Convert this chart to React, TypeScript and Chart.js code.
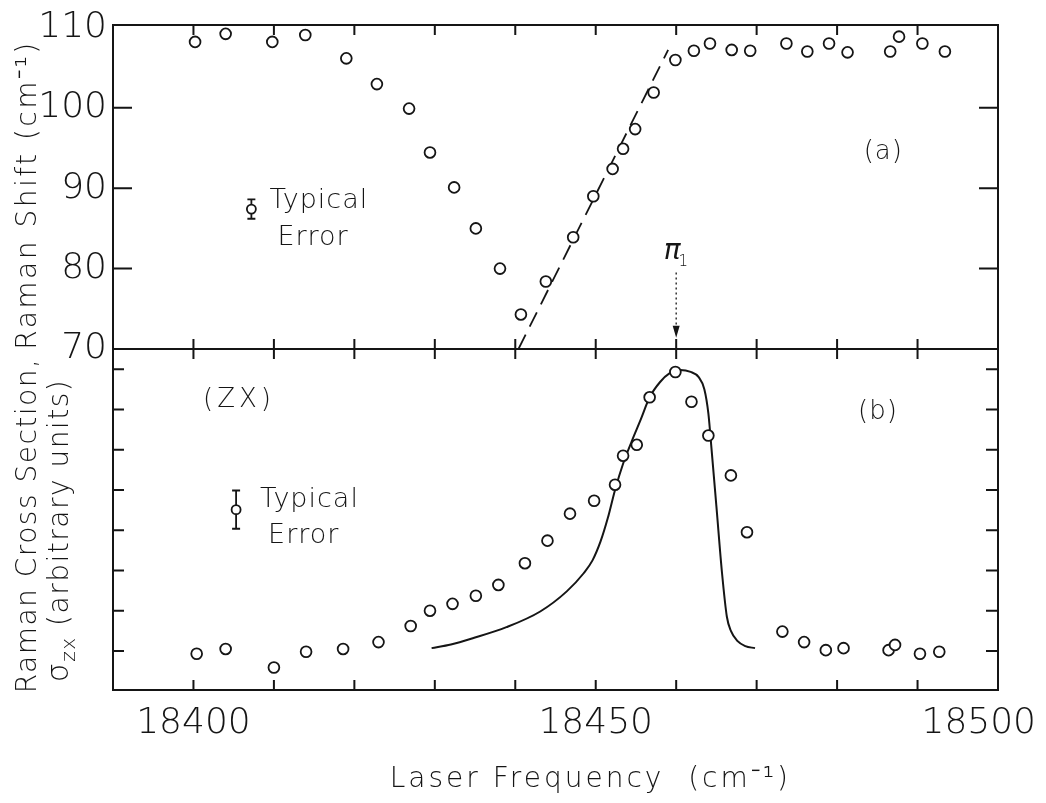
import React, { useEffect, useRef } from "react";
import { Chart, registerables } from "chart.js";

Chart.register(...registerables);

// ---------- axes ----------
const X_MIN = 18390;
const X_MAX = 18500;
const X_TICKS = [18400, 18410, 18420, 18430, 18440, 18450, 18460, 18470, 18480, 18490];
const X_LABELS = [18400, 18450, 18500];

const TOP_Y_MIN = 70;
const TOP_Y_MAX = 110.3;
const TOP_Y_LABELS = [70, 80, 90, 100, 110];
const TOP_Y_TICKS = [80, 90, 100];

const BOT_Y_MIN = -0.97;
const BOT_Y_MAX = 7.5;
const BOT_Y_TICKS = [0, 1, 2, 3, 4, 5, 6, 7];

// ---------- (a) Raman shift ----------
const shiftFreq = [
  18400.2, 18404.0, 18409.8, 18413.9, 18419.0, 18422.8, 18426.8, 18429.4,
  18432.4, 18435.1, 18438.1, 18440.7, 18443.8, 18447.2, 18449.7, 18452.1,
  18453.4, 18454.9, 18457.2, 18459.9, 18462.2, 18464.2, 18466.9, 18469.2,
  18473.7, 18476.3, 18479.0, 18481.3, 18486.6, 18487.7, 18490.6, 18493.4,
];
const shiftVal = [
  108.2, 109.2, 108.2, 109.05, 106.15, 102.95, 99.9, 94.45,
  90.1, 85.0, 80.0, 74.3, 78.4, 83.9, 89.0, 92.4,
  94.9, 97.35, 101.9, 105.95, 107.1, 108.0, 107.2, 107.1,
  108.0, 107.0, 108.0, 106.9, 107.0, 108.85, 108.0, 107.0,
];
const fitFreq = [18440.4, 18459.0];
const fitVal = [70, 107.2];
const topError = [18407.2, 87.4, 1.2]; // freq, value, half-width
const PI1_FREQ = 18460;
const PI1_FROM = 79.5;
const PI1_TO = 71.4;

// ---------- (b) Raman cross section ----------
const crossFreq = [
  18400.4, 18404.0, 18410.0, 18414.0, 18418.6, 18423.0, 18427.0, 18429.4,
  18432.2, 18435.1, 18437.9, 18441.2, 18444.0, 18446.8, 18449.8, 18452.4,
  18453.4, 18455.1, 18456.7, 18459.9, 18461.9, 18464.0, 18466.8, 18468.8,
  18473.2, 18475.9, 18478.6, 18480.8, 18486.4, 18487.2, 18490.3, 18492.7,
];
const crossVal = [
  -0.07, 0.05, -0.41, -0.02, 0.05, 0.22, 0.62, 1.0,
  1.17, 1.37, 1.64, 2.18, 2.74, 3.41, 3.73, 4.13,
  4.85, 5.12, 6.3, 6.93, 6.19, 5.35, 4.36, 2.95,
  0.48, 0.22, 0.02, 0.07, 0.02, 0.15, -0.07, -0.02,
];
const theoryFreq = [
  18429.6, 18432.0, 18434.8, 18438.9, 18443.1, 18446.4, 18448.5, 18449.6,
  18450.6, 18451.5, 18452.4, 18453.4, 18454.5, 18455.6, 18456.7, 18458.0,
  18459.2, 18460.5, 18461.8, 18462.8, 18463.5, 18464.0, 18464.4, 18465.0,
  18465.7, 18466.3, 18466.8, 18467.6, 18468.6, 18469.8,
];
const theoryVal = [
  0.07, 0.16, 0.32, 0.59, 0.98, 1.48, 1.93, 2.25,
  2.72, 3.3, 4.0, 4.65, 5.22, 5.75, 6.3, 6.68,
  6.9, 6.98, 6.93, 6.8, 6.5, 5.9, 5.0, 3.59,
  1.93, 0.85, 0.5, 0.25, 0.12, 0.07,
];
const botError = [18405.3, 3.51, 0.475];

const INK = "#151515";
const FAM = "'DejaVu Sans', 'Liberation Sans', sans-serif";

const zip = (xs: number[], ys: number[]) => xs.map((x, i) => ({ x, y: ys[i] }));

const drawPlugin = {
  id: "paperDecor",
  afterDraw(chart: any) {
    const ctx: CanvasRenderingContext2D = chart.ctx;
    const xs = chart.scales.x;
    const yt = chart.scales.yTop;
    const yb = chart.scales.yBot;
    const L = xs.left;
    const R = xs.right;
    ctx.save();
    ctx.strokeStyle = INK;
    ctx.fillStyle = INK;
    ctx.lineWidth = 2;
    ctx.lineCap = "butt";
    ctx.setLineDash([]);

    // frames
    ctx.strokeRect(L, yt.top, R - L, yt.bottom - yt.top);
    ctx.strokeRect(L, yb.top, R - L, yb.bottom - yb.top);

    // x ticks
    ctx.beginPath();
    for (const v of X_TICKS) {
      const px = xs.getPixelForValue(v);
      ctx.moveTo(px, yt.top);
      ctx.lineTo(px, yt.top + 10);
      ctx.moveTo(px, yt.bottom - 10);
      ctx.lineTo(px, yt.bottom + 10);
      ctx.moveTo(px, yb.bottom - 10);
      ctx.lineTo(px, yb.bottom);
    }
    // top y ticks
    for (const v of TOP_Y_TICKS) {
      const py = yt.getPixelForValue(v);
      ctx.moveTo(L, py);
      ctx.lineTo(L + 19, py);
      ctx.moveTo(R - 19, py);
      ctx.lineTo(R, py);
    }
    // bottom y ticks
    for (const v of BOT_Y_TICKS) {
      const py = yb.getPixelForValue(v);
      ctx.moveTo(L, py);
      ctx.lineTo(L + 11, py);
      ctx.moveTo(R - 12, py);
      ctx.lineTo(R, py);
    }
    ctx.stroke();

    // tick labels
    ctx.font = `200 36px ${FAM}`;
    ctx.textAlign = "right";
    ctx.textBaseline = "middle";
    for (const v of TOP_Y_LABELS) {
      ctx.fillText(String(v), L - 6, yt.getPixelForValue(v));
    }
    ctx.textAlign = "center";
    ctx.textBaseline = "alphabetic";
    for (const v of X_LABELS) {
      const s = String(v);
      const w = ctx.measureText(s).width;
      let cx = xs.getPixelForValue(v);
      if (cx + w / 2 > chart.width - 10) cx = chart.width - 10 - w / 2;
      ctx.fillText(s, cx, yb.bottom + 43);
    }

    // axis titles
    (ctx as any).letterSpacing = "3px";
    ctx.font = `200 28px ${FAM}`;
    ctx.textAlign = "center";
    ctx.fillText("Laser Frequency  (cm\u207B\u00B9)", xs.getPixelForValue(18449.7) - 3, yb.bottom + 97);

    (ctx as any).letterSpacing = "2.5px";
    ctx.save();
    ctx.translate(36, (yt.top + yt.bottom) / 2 + 8);
    ctx.rotate(-Math.PI / 2);
    ctx.fillText("Raman Shift (cm\u207B\u00B9)", 0, 0);
    ctx.restore();

    (ctx as any).letterSpacing = "1.5px";
    ctx.save();
    ctx.translate(36, (yb.top + yb.bottom) / 2 + 6);
    ctx.rotate(-Math.PI / 2);
    ctx.fillText("Raman Cross Section,", 0, 0);
    ctx.restore();

    ctx.save();
    ctx.translate(68, (yb.top + yb.bottom) / 2 + 11);
    ctx.rotate(-Math.PI / 2);
    const part1 = "\u03C3";
    const part2 = "zx";
    const part3 = " (arbitrary units)";
    ctx.font = `200 30px ${FAM}`;
    const w1 = ctx.measureText(part1).width;
    ctx.font = `200 20px ${FAM}`;
    const w2 = ctx.measureText(part2).width;
    ctx.font = `200 28px ${FAM}`;
    const w3 = ctx.measureText(part3).width;
    let sx = -(w1 + w2 + w3) / 2;
    ctx.textAlign = "left";
    ctx.font = `200 30px ${FAM}`;
    ctx.fillText(part1, sx, 0);
    sx += w1;
    ctx.font = `200 20px ${FAM}`;
    ctx.fillText(part2, sx, 7);
    sx += w2;
    ctx.font = `200 28px ${FAM}`;
    ctx.fillText(part3, sx, 0);
    ctx.restore();

    // panel annotations
    (ctx as any).letterSpacing = "1px";
    ctx.textAlign = "left";
    ctx.font = `200 27px ${FAM}`;
    const tx = xs.getPixelForValue(topError[0]);
    const ty = yt.getPixelForValue(topError[1]);
    ctx.fillText("Typical", tx + 18, ty - 1);
    ctx.fillText("Error", tx + 26, ty + 36);
    const bx = xs.getPixelForValue(botError[0]);
    const by = yb.getPixelForValue(botError[1]);
    ctx.fillText("Typical", bx + 24, by - 3);
    ctx.fillText("Error", bx + 32, by + 33);

    ctx.font = `200 26px ${FAM}`;
    (ctx as any).letterSpacing = "4px";
    ctx.fillText("(ZX)", L + 90, yb.top + 58);
    (ctx as any).letterSpacing = "1px";
    ctx.fillText("(a)", xs.getPixelForValue(18483.3), yt.getPixelForValue(93.6));
    ctx.fillText("(b)", xs.getPixelForValue(18482.6), yb.getPixelForValue(5.75));

    // error bars
    ctx.lineWidth = 1.8;
    const drawErr = (cx: number, cy: number, top: number, bot: number) => {
      ctx.beginPath();
      ctx.moveTo(cx, top);
      ctx.lineTo(cx, bot);
      ctx.moveTo(cx - 4, top);
      ctx.lineTo(cx + 4, top);
      ctx.moveTo(cx - 4, bot);
      ctx.lineTo(cx + 4, bot);
      ctx.stroke();
      ctx.beginPath();
      ctx.fillStyle = "#fff";
      ctx.arc(cx, cy, 4.5, 0, Math.PI * 2);
      ctx.fill();
      ctx.stroke();
      ctx.fillStyle = INK;
    };
    drawErr(
      tx,
      ty,
      yt.getPixelForValue(topError[1] + topError[2]),
      yt.getPixelForValue(topError[1] - topError[2])
    );
    drawErr(
      bx,
      by,
      yb.getPixelForValue(botError[1] + botError[2]),
      yb.getPixelForValue(botError[1] - botError[2])
    );

    // pi_1 marker
    const px = xs.getPixelForValue(PI1_FREQ);
    const pFrom = yt.getPixelForValue(PI1_FROM);
    const pTo = yt.getPixelForValue(PI1_TO);
    ctx.lineWidth = 1.3;
    ctx.setLineDash([2, 3]);
    ctx.beginPath();
    ctx.moveTo(px, pFrom);
    ctx.lineTo(px, pTo - 8);
    ctx.stroke();
    ctx.setLineDash([]);
    ctx.beginPath();
    ctx.moveTo(px, pTo);
    ctx.lineTo(px - 3.5, pTo - 12);
    ctx.lineTo(px + 3.5, pTo - 12);
    ctx.closePath();
    ctx.fill();
    (ctx as any).letterSpacing = "0px";
    ctx.font = `italic 200 28px ${FAM}`;
    ctx.textAlign = "center";
    ctx.fillText("\u03C0", px - 4, pFrom - 14);
    ctx.font = `200 15px ${FAM}`;
    ctx.fillText("1", px + 7, pFrom - 7);

    ctx.restore();
  },
};

export default function App() {
  const ref = useRef<HTMLCanvasElement>(null);
  useEffect(() => {
    if (!ref.current) return;
    const pointStyle = {
      showLine: false,
      pointStyle: "circle",
      pointRadius: 5.4,
      pointBorderWidth: 1.8,
      pointBorderColor: INK,
      pointBackgroundColor: "#ffffff",
      borderColor: INK,
      backgroundColor: "#ffffff",
    };
    const chart = new Chart(ref.current, {
      type: "line",
      data: {
        datasets: [
          { ...pointStyle, label: "shift", data: zip(shiftFreq, shiftVal), yAxisID: "yTop" } as any,
          { ...pointStyle, label: "cross", data: zip(crossFreq, crossVal), yAxisID: "yBot" } as any,
          {
            label: "fit",
            data: zip(fitFreq, fitVal),
            yAxisID: "yTop",
            borderColor: INK,
            borderWidth: 1.8,
            borderDash: [16, 9],
            pointRadius: 0,
            tension: 0,
          },
          {
            label: "theory",
            data: zip(theoryFreq, theoryVal),
            yAxisID: "yBot",
            borderColor: INK,
            borderWidth: 2,
            pointRadius: 0,
            cubicInterpolationMode: "monotone",
          } as any,
        ],
      },
      options: {
        animation: false,
        responsive: false,
        events: [],
        layout: { padding: { left: 113, right: 48, top: 25, bottom: 113 } },
        plugins: { legend: { display: false }, tooltip: { enabled: false } },
        scales: {
          x: { type: "linear", min: X_MIN, max: X_MAX, display: false },
          yBot: {
            type: "linear",
            position: "left",
            min: BOT_Y_MIN,
            max: BOT_Y_MAX,
            display: false,
            stack: "panels",
            stackWeight: 341,
            weight: 0,
          },
          yTop: {
            type: "linear",
            position: "left",
            min: TOP_Y_MIN,
            max: TOP_Y_MAX,
            display: false,
            stack: "panels",
            stackWeight: 324,
            weight: 1,
          },
        } as any,
      },
      plugins: [drawPlugin],
    });
    return () => chart.destroy();
  }, []);
  return (
    <div style={{ position: "fixed", left: 0, top: 0, width: 1046, height: 803, background: "#fff" }}>
      <canvas ref={ref} width={1046} height={803} style={{ display: "block" }} />
    </div>
  );
}
